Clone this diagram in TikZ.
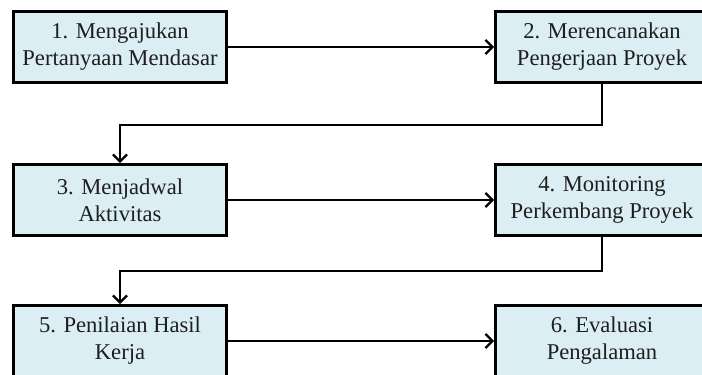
\documentclass[tikz,border=0pt]{standalone}
\usepackage{fontspec}
\setmainfont{Liberation Serif}
\usepackage{tikz}
\usetikzlibrary{arrows.meta, positioning, calc}
\definecolor{stepFill}{RGB}{219,238,244}
\definecolor{stepText}{RGB}{30,30,30}

\begin{document}
\begin{tikzpicture}[x=1pt, y=1pt,
    stepbox/.style={draw=black, fill=stepFill, line width=3pt,
      minimum width=213pt, minimum height=71pt, align=center,
      text=stepText, font=\fontsize{22.6}{27}\selectfont},
    flow/.style={-{Straight Barb[length=7pt, width=14pt]}, line width=2.2pt}]
\useasboundingbox (0,0) rectangle (702,-375);

% Six project steps, two columns
\foreach \name/\x/\y/\desc in {
   1/120/-47/{1. Mengajukan\\Pertanyaan Mendasar},
   2/602/-47/{2. Merencanakan\\Pengerjaan Proyek},
   3/120/-200/{3. Menjadwal\\Aktivitas},
   4/602/-200/{4. Monitoring\\Perkembang Proyek},
   5/120/-341/{5. Penilaian Hasil\\Kerja},
   6/602/-341/{6. Evaluasi\\Pengalaman}}
{
  \node[stepbox] (n\name) at (\x,\y) {\desc};
}

% left to right within a row
\foreach \a/\b in {1/2, 3/4, 5/6}
  \draw[flow] (n\a.east) -- (n\b.west);

% back to the left column, one row down
\draw[flow] (n2.south) -- ++(0,-41) -| (n3.north);
\draw[flow] (n4.south) -- ++(0,-34) -| (n5.north);

\end{tikzpicture}
\end{document}
